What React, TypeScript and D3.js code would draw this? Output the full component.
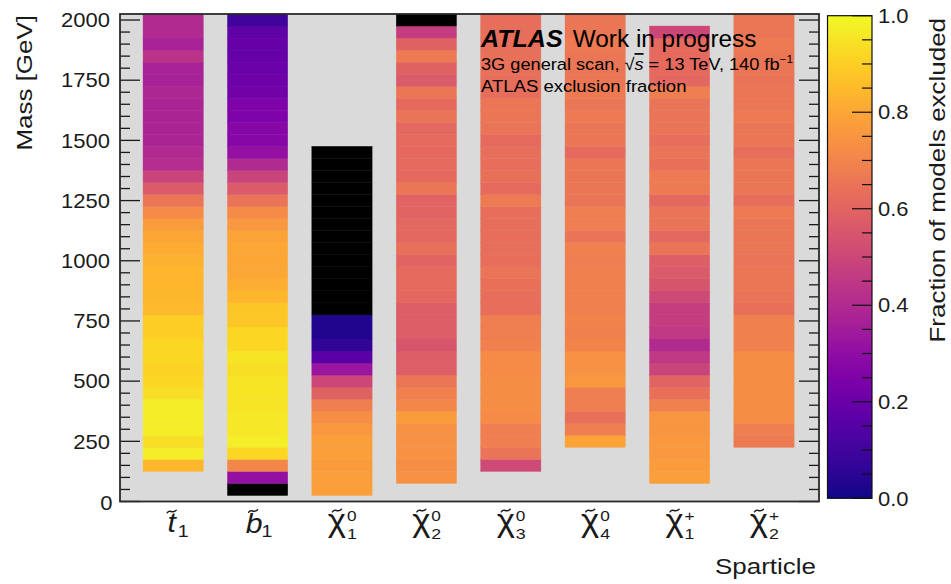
import React from "react";
import * as d3 from "d3";

// Sparticle columns and their axis label pieces
const sparticles = ["stop1", "sbottom1", "chi10", "chi20", "chi30", "chi40", "chi1p", "chi2p"];
const labelBase = ["t", "b", "χ", "χ", "χ", "χ", "χ", "χ"];
const labelSup = ["", "", "0", "0", "0", "0", "+", "+"];
const labelSub = ["1", "1", "1", "2", "3", "4", "1", "2"];

// Mass binning (GeV): every column uses 50 GeV bins starting at its own lower edge
const binWidthGeV = 50;
const firstBinLow = [125, 25, 25, 75, 125, 225, 75, 225];

// Fraction of models excluded per mass bin, listed from the lowest bin upwards
const stop1Fraction = [0.84, 0.97, 0.94, 0.97, 0.97, 0.97, 0.94, 0.92, 0.91, 0.92, 0.92, 0.90, 0.90, 0.85, 0.84, 0.84, 0.84, 0.83, 0.81, 0.80, 0.77, 0.72, 0.66, 0.57, 0.49, 0.41, 0.40, 0.38, 0.38, 0.38, 0.38, 0.39, 0.37, 0.37, 0.43, 0.37, 0.40, 0.40];
const sbottom1Fraction = [0, 0.31, 0.71, 0.92, 0.97, 0.96, 0.96, 0.95, 0.95, 0.95, 0.94, 0.95, 0.92, 0.92, 0.88, 0.88, 0.84, 0.82, 0.80, 0.80, 0.80, 0.79, 0.76, 0.72, 0.65, 0.57, 0.49, 0.40, 0.31, 0.27, 0.27, 0.25, 0.25, 0.22, 0.21, 0.20, 0.19, 0.19, 0.17, 0.09];
const chi10Fraction = [0.78, 0.78, 0.77, 0.78, 0.78, 0.76, 0.73, 0.68, 0.59, 0.50, 0.33, 0.16, 0.07, 0.03, 0.03, 0, 0, 0, 0, 0, 0, 0, 0, 0, 0, 0, 0, 0, 0];
const chi20Fraction = [0.74, 0.73, 0.74, 0.74, 0.74, 0.77, 0.71, 0.69, 0.66, 0.58, 0.58, 0.55, 0.58, 0.58, 0.58, 0.61, 0.62, 0.62, 0.60, 0.64, 0.61, 0.61, 0.60, 0.60, 0.66, 0.62, 0.62, 0.62, 0.62, 0.61, 0.65, 0.62, 0.66, 0.57, 0.59, 0.67, 0.59, 0.47, 0];
const chi30Fraction = [0.51, 0.65, 0.68, 0.68, 0.72, 0.73, 0.73, 0.73, 0.72, 0.72, 0.69, 0.68, 0.68, 0.63, 0.63, 0.64, 0.65, 0.63, 0.63, 0.63, 0.63, 0.63, 0.67, 0.62, 0.64, 0.63, 0.63, 0.62, 0.65, 0.66, 0.66, 0.63, 0.63, 0.64, 0.64, 0.63, 0.63, 0.63];
const chi40Fraction = [0.79, 0.68, 0.64, 0.68, 0.68, 0.76, 0.74, 0.74, 0.70, 0.69, 0.70, 0.69, 0.69, 0.69, 0.69, 0.68, 0.69, 0.65, 0.68, 0.68, 0.65, 0.66, 0.66, 0.66, 0.62, 0.66, 0.66, 0.67, 0.66, 0.67, 0.66, 0.66, 0.66, 0.67, 0.66, 0.66];
const chi1pFraction = [0.78, 0.77, 0.76, 0.76, 0.75, 0.75, 0.69, 0.64, 0.60, 0.49, 0.45, 0.40, 0.45, 0.47, 0.47, 0.51, 0.55, 0.57, 0.58, 0.65, 0.61, 0.65, 0.65, 0.61, 0.67, 0.67, 0.64, 0.65, 0.63, 0.65, 0.65, 0.65, 0.68, 0.61, 0.62, 0.62, 0.62, 0.50];
const chi2pFraction = [0.67, 0.68, 0.73, 0.73, 0.73, 0.73, 0.73, 0.73, 0.69, 0.69, 0.69, 0.64, 0.65, 0.66, 0.66, 0.65, 0.66, 0.66, 0.66, 0.67, 0.63, 0.66, 0.66, 0.66, 0.63, 0.66, 0.66, 0.67, 0.66, 0.66, 0.65, 0.66, 0.66, 0.67, 0.66, 0.66];

const fractions = [stop1Fraction, sbottom1Fraction, chi10Fraction, chi20Fraction, chi30Fraction, chi40Fraction, chi1pFraction, chi2pFraction];

// Axis ticks
const massTicks = [0, 250, 500, 750, 1000, 1250, 1500, 1750, 2000];
const massMinorStep = 50;
const fractionTicks = [0, 0.2, 0.4, 0.6, 0.8, 1.0];
const fractionMinorStep = 0.05;

const FONT = "'Liberation Sans', Arial, Helvetica, sans-serif";
const INK = "#1a1a1a";

// Per-glyph offsets for the sparticle labels (main glyph, tilde accent, indices)
const glyphLayout: Record<string, { main: number; tilde: number; idx: number; size: number; italic: boolean; base: number; tildeY: number }> = {
  t: { main: -1.5, tilde: -1.5, idx: 4.5, size: 27, italic: true, base: 531.5, tildeY: 511.5 },
  b: { main: -3.5, tilde: -4.5, idx: 4, size: 27, italic: true, base: 533, tildeY: 511 },
  "χ": { main: -5, tilde: -5, idx: 5, size: 31, italic: false, base: 531, tildeY: 510.5 },
};

// Small wavy accent drawn above a label glyph
function tildePath(cx: number, cy: number) {
  const w = 9;
  const a = cx - w / 2;
  return `M${a},${cy + 1.3} C${a + 2.6},${cy - 2.8} ${a + 5.2},${cy + 2.8} ${a + w},${cy - 1.3}`;
}

export default function App() {
  const W = 951;
  const H = 584;
  const frame = { left: 120, right: 819, top: 14, bottom: 501.5 };
  const bar = { left: 827.5, right: 872, top: 15.7, bottom: 498.3 };

  const x = d3.scaleLinear().domain([-0.63, 7.652]).range([frame.left, frame.right]);
  const y = d3.scaleLinear().domain([0, 2025]).range([frame.bottom, frame.top]);
  const z = d3.scaleLinear().domain([0, 1]).range([bar.bottom, bar.top]);
  const halfWidth = 0.357;
  const color = (v: number) => (v <= 0 ? "#000000" : d3.interpolatePlasma(v));

  const massMinor = d3.range(0, 2001, massMinorStep).filter((m) => m % 250 !== 0);
  const fracMinor = d3.range(0, 1.0001, fractionMinorStep).filter((f) => Math.abs(f * 5 - Math.round(f * 5)) > 1e-6);
  const gradStops = d3.range(0, 1.0001, 0.02);

  const cells = fractions.flatMap((vals, i) =>
    vals.map((v, j) => {
      const lo = firstBinLow[i] + j * binWidthGeV;
      const hi = lo + binWidthGeV;
      return { key: `${sparticles[i]}-${j}`, x0: x(i - halfWidth), x1: x(i + halfWidth), y0: y(hi), y1: y(lo), fill: color(v) };
    })
  );

  return (
    <svg width={W} height={H} style={{ position: "absolute", left: 0, top: 0, background: "#fff" }} fontFamily={FONT}>
      <defs>
        <linearGradient id="plasmaBar" x1="0" y1="1" x2="0" y2="0">
          {gradStops.map((s) => (
            <stop key={s} offset={`${s * 100}%`} stopColor={d3.interpolatePlasma(s)} />
          ))}
        </linearGradient>
      </defs>

      {/* plot background */}
      <rect x={frame.left} y={frame.top} width={frame.right - frame.left} height={frame.bottom - frame.top} fill="#dadada" />

      {/* mass bins */}
      {cells.map((c) => (
        <rect key={c.key} x={c.x0} y={c.y0} width={c.x1 - c.x0} height={c.y1 - c.y0} fill={c.fill} stroke={c.fill} strokeWidth={0.4} />
      ))}

      {/* y ticks, left and right */}
      {massTicks.map((m) => (
        <g key={`M${m}`} stroke={INK} strokeWidth={1.3}>
          <line x1={frame.left} x2={frame.left + 20} y1={y(m)} y2={y(m)} />
          <line x1={frame.right - 20} x2={frame.right} y1={y(m)} y2={y(m)} />
        </g>
      ))}
      {massMinor.map((m) => (
        <g key={`m${m}`} stroke={INK} strokeWidth={1.3}>
          <line x1={frame.left} x2={frame.left + 10} y1={y(m)} y2={y(m)} />
          <line x1={frame.right - 10} x2={frame.right} y1={y(m)} y2={y(m)} />
        </g>
      ))}

      {/* frame */}
      <rect x={frame.left} y={frame.top} width={frame.right - frame.left} height={frame.bottom - frame.top} fill="none" stroke="#2a2a2a" strokeWidth={1.8} />

      {/* y tick labels */}
      {massTicks.map((m) => (
        <text
          key={`L${m}`}
          transform={`translate(${m === 0 ? 112.5 : 110},${y(m) + (m === 0 ? 1.5 : 0)}) scale(1.1,1)`}
          textAnchor="end"
          dy="0.36em"
          fontSize={20}
          fill={INK}
        >
          {m}
        </text>
      ))}

      {/* sparticle labels */}
      {sparticles.map((s, i) => {
        const g = glyphLayout[labelBase[i]];
        const cx = x(i);
        return (
          <g key={s} fill={INK}>
            <text
              transform={`translate(${cx + g.main},${g.base}) scale(1.12,1)`}
              textAnchor="middle"
              fontSize={g.size}
              fontStyle={g.italic ? "italic" : "normal"}
            >
              {labelBase[i]}
            </text>
            <path d={tildePath(cx + g.tilde, g.tildeY)} fill="none" stroke={INK} strokeWidth={1.4} strokeLinecap="round" />
            {labelSup[i] && (
              <text transform={`translate(${cx + g.idx},520.5) scale(1.15,1)`} fontSize={15}>
                {labelSup[i]}
              </text>
            )}
            <text transform={`translate(${cx + g.idx},${labelSup[i] ? 538.5 : 536.5}) scale(1.15,1)`} fontSize={labelSup[i] ? 15.5 : 17}>
              {labelSub[i]}
            </text>
          </g>
        );
      })}

      {/* axis titles */}
      <text transform={`translate(32,15) rotate(-90) scale(1.18,1)`} textAnchor="end" fontSize={22} fill={INK}>
        Mass [GeV]
      </text>
      <text transform={`translate(816,573.5) scale(1.18,1)`} textAnchor="end" fontSize={22} fill={INK}>
        Sparticle
      </text>

      {/* ATLAS label */}
      <text transform="translate(481,47.3) scale(1.09,1)" fontSize={23} fontWeight="bold" fontStyle="italic" fill="#000">
        ATLAS
      </text>
      <text transform="translate(572.7,47.3) scale(1.06,1)" fontSize={23} fill="#000">
        Work in progress
      </text>
      <text transform="translate(481,69.5) scale(1.07,1)" fontSize={17} fill="#000">
        3G general scan, √<tspan fontStyle="italic" textDecoration="overline">s</tspan> = 13 TeV, 140 fb
        <tspan fontSize={11} dy={-7}>−1</tspan>
      </text>
      <text transform="translate(481,91.7) scale(1.09,1)" fontSize={17} fill="#000">
        ATLAS exclusion fraction
      </text>

      {/* colour bar */}
      <rect x={bar.left} y={bar.top} width={bar.right - bar.left} height={bar.bottom - bar.top} fill="url(#plasmaBar)" stroke="#111" strokeWidth={1.2} />
      {fractionTicks.map((f) => (
        <line key={`F${f}`} x1={bar.right - 20} x2={bar.right} y1={z(f)} y2={z(f)} stroke="#111" strokeWidth={1.2} />
      ))}
      {fracMinor.map((f) => (
        <line key={`f${f}`} x1={bar.right - 10} x2={bar.right} y1={z(f)} y2={z(f)} stroke="#111" strokeWidth={1.2} />
      ))}
      {fractionTicks.map((f) => (
        <text key={`FL${f}`} transform={`translate(878,${z(f)}) scale(1.1,1)`} dy="0.36em" fontSize={20} fill={INK}>
          {d3.format(".1f")(f)}
        </text>
      ))}
      <text transform={`translate(945,18) rotate(-90) scale(1.18,1)`} textAnchor="end" fontSize={22} fill={INK}>
        Fraction of models excluded
      </text>
    </svg>
  );
}
